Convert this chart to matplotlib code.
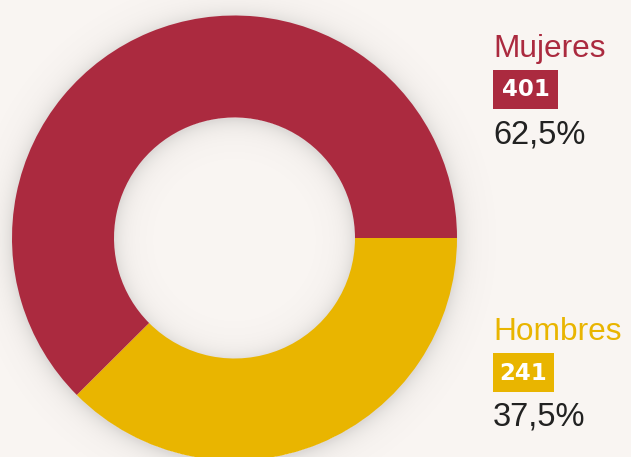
import matplotlib.pyplot as plt
from matplotlib.patches import Rectangle
import numpy as np

# Data
labels = ['Hombres', 'Mujeres']
counts = [241, 401]
percents = ['37,5%', '62,5%']
colors = ['#e9b500', '#ab2a3f']

bg = '#f9f5f2'
W, H = 631, 457

fig = plt.figure(figsize=(6.31, 4.57), dpi=100, facecolor=bg)
ax = fig.add_axes([0, 0, 1, 1])
ax.set_xlim(0, W)
ax.set_ylim(0, H)
ax.set_aspect('equal')
ax.axis('off')

cx, cy = 234.5, H - 238
r_out, r_in = 222.5, 120.5

# soft shadow around the ring and inside the hole
yy, xx = np.mgrid[0:H, 0:W]
d = np.hypot(xx + 0.5 - cx, (H - yy - 0.5) - cy + 2)
shade = np.zeros_like(d)
outer = d > r_out - 2
shade[outer] = np.exp(-np.clip(d[outer] - r_out, 0, None) / 10.0)
inner = d < r_in + 2
shade[inner] = np.exp(-np.clip(r_in - d[inner], 0, None) / 10.0)
img = np.zeros((H, W, 4))
img[..., :3] = 0.45
img[..., 3] = 0.2 * shade
ax.imshow(img, extent=(0, W, 0, H), origin='upper', zorder=0,
          interpolation='nearest')

ax.pie(counts, colors=colors, startangle=0, counterclock=False,
       center=(cx, cy), radius=r_out,
       wedgeprops=dict(width=r_out - r_in, linewidth=0, antialiased=True))
ax.set_xlim(0, W)
ax.set_ylim(0, H)

# labels on the right
font = 'Liberation Sans'
blocks = {'Mujeres': 57, 'Hombres': 340}
for lab, n, pct, col in zip(labels, counts, percents, colors):
    base = blocks[lab]
    ax.text(493, H - base, lab, color=col, fontsize=22.8, family=font,
            va='baseline', ha='left')
    bw = 65 if lab == 'Mujeres' else 61
    ax.add_patch(Rectangle((493, H - (base + 52)), bw, 39, color=col, lw=0))
    ax.text(493 + bw / 2, H - (base + 33), str(n), color='white', fontsize=16.5,
            family='DejaVu Sans', weight='bold', ha='center', va='center')
    ax.text(493, H - (base + 86), pct, color='#222222', fontsize=23.5,
            family=font, va='baseline', ha='left')

fig.savefig('out.png', dpi=100, facecolor=bg)
